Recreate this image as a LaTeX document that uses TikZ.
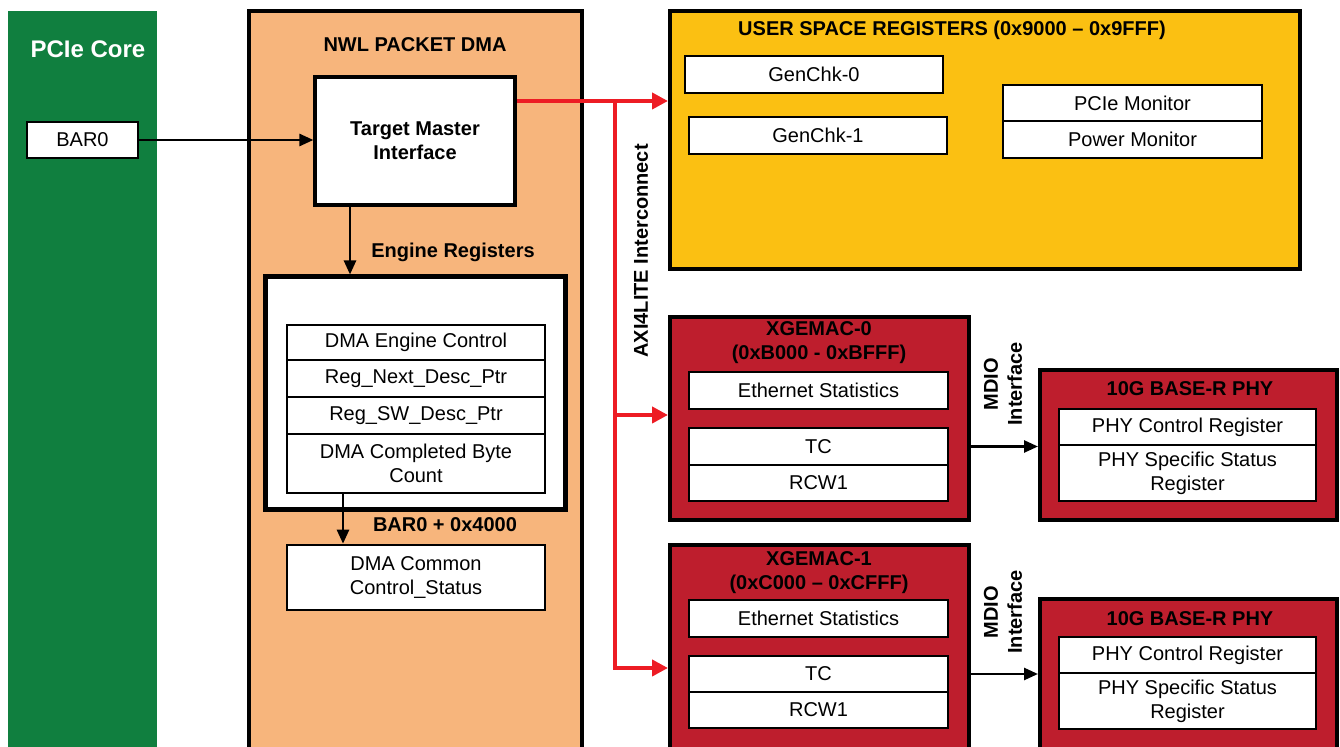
\documentclass[tikz,border=0pt]{standalone}
\usepackage{fontspec}
\setmainfont{Liberation Sans}
\usetikzlibrary{arrows.meta,fit}
\definecolor{coregreen}{RGB}{16,127,63}
\definecolor{dmaorange}{RGB}{247,181,124}
\definecolor{usryellow}{RGB}{251,192,18}
\definecolor{macred}{RGB}{190,30,45}
\definecolor{axired}{RGB}{237,28,36}
\tikzset{
  blk/.style={draw=black, line width=2pt, inner sep=0pt},
  cell/.style={draw=black, fill=white, line width=1.3pt, inner sep=0pt, align=center},
  sz/.style 2 args={minimum width=#1*0.5pt, minimum height=#2*0.5pt},
  hdr/.style={font=\bfseries, align=center},
  arr/.style={-{Triangle[length=7pt,width=6pt]}, line width=1.3pt},
  axi/.style={-{Triangle[length=8pt,width=8pt]}, line width=2pt, draw=axired},
}
\begin{document}
\begin{tikzpicture}[x=0.5pt,y=-0.5pt]
\useasboundingbox (0,0) rectangle (1340,747);
\clip (0,0) rectangle (1340,747);

% PCIe core
\node[fill=coregreen, inner sep=0pt, fit={(8,11) (157,760)}] (core) {};
\node[hdr, text=white, font=\bfseries\fontsize{12}{14}\selectfont] (coret) at (88,49) {PCIe Core};
\node[cell, sz={111}{36}] (bar) at (82.5,140) {BAR0};

% packet dma
\node[blk, fill=dmaorange, fit={(249,11) (582,760)}] (dma) {};
\node[hdr] (dmat) at (415,45) {NWL PACKET DMA};
\node[cell, sz={200}{128}, line width=1.6pt, font=\bfseries] (tmi) at (415,141) {Target Master\\Interface};
\node[hdr] (engt) at (453,252) {Engine Registers};
\node[blk, fill=white, line width=2.5pt, fit={(265,277) (565,510)}] (eng) {};
\node[cell, sz={258}{35}] (ctl) at (416,342.5) {DMA Engine Control};
\node[cell, sz={258}{37}] (nxt) at (416,378.5) {Reg\_Next\_Desc\_Ptr};
\node[cell, sz={258}{37}] (sw) at (416,415.5) {Reg\_SW\_Desc\_Ptr};
\node[cell, sz={258}{59}] (cnt) at (416,463.5) {DMA Completed Byte\\Count};
\node[hdr] (offt) at (445,525) {BAR0 + 0x4000};
\node[cell, sz={258}{65}] (cmn) at (416,577.5) {DMA Common\\Control\_Status};

\draw[arr] (bar.east) -- (bar.east -| tmi.west);
\draw[arr] ([xshift=-32.5pt]tmi.south) -- ([xshift=-32.5pt]eng.north);
\draw[arr] ([xshift=-36.5pt]cnt.south) -- ([xshift=-36.5pt]cmn.north);

% user space
\node[blk, fill=usryellow, fit={(670,11) (1300,269)}] (usr) {};
\node[hdr] (usrt) at (952,30) {USER SPACE REGISTERS (0x9000 -- 0x9FFF)};
\node[cell, sz={258}{37}] (gc0) at (814,74.5) {GenChk-0};
\node[cell, sz={258}{37}] (gc1) at (818,135.5) {GenChk-1};
\node[cell, sz={259}{36}] (pmon) at (1132.5,103) {PCIe Monitor};
\node[cell, sz={259}{37}] (wmon) at (1132.5,139.5) {Power Monitor};

% xgemac 0 and phy
\node[blk, fill=macred, fit={(670,317) (969,520)}] (mac0) {};
\node[hdr] (mac0t) at (819,343) {XGEMAC-0\\(0xB000 - 0xBFFF)};
\node[cell, sz={259}{37}] (eth0) at (818.5,390.5) {Ethernet Statistics};
\node[cell, sz={259}{37}] (tc0) at (818.5,446.5) {TC};
\node[cell, sz={259}{36}] (rcw0) at (818.5,483) {RCW1};
\node[blk, fill=macred, fit={(1040,370) (1337,520)}] (phy0) {};
\node[hdr] (phy0t) at (1190,389) {10G BASE-R PHY};
\node[cell, sz={257}{36}] (pctl0) at (1187.5,427) {PHY Control Register};
\node[cell, sz={257}{56}] (psts0) at (1187.5,473) {PHY Specific Status\\Register};
\node[hdr, rotate=90] (mdio0) at (1003,384) {MDIO\\Interface};
\draw[arr] (mac0.east |- tc0) -- (phy0.west |- tc0);

% xgemac 1 and phy
\node[blk, fill=macred, fit={(670,545) (969,760)}] (mac1) {};
\node[hdr] (mac1t) at (819,573) {XGEMAC-1\\(0xC000 -- 0xCFFF)};
\node[cell, sz={259}{37}] (eth1) at (818.5,618.5) {Ethernet Statistics};
\node[cell, sz={259}{36}] (tc1) at (818.5,674) {TC};
\node[cell, sz={259}{36}] (rcw1) at (818.5,710) {RCW1};
\node[blk, fill=macred, fit={(1040,599) (1337,760)}] (phy1) {};
\node[hdr] (phy1t) at (1190,619) {10G BASE-R PHY};
\node[cell, sz={257}{36}] (pctl1) at (1187.5,655) {PHY Control Register};
\node[cell, sz={257}{56}] (psts1) at (1187.5,701) {PHY Specific Status\\Register};
\node[hdr, rotate=90] (mdio1) at (1003,612) {MDIO\\Interface};
\draw[arr] (mac1.east |- tc1) -- (phy1.west |- tc1);

% axi4lite interconnect
\coordinate (bus0) at (615,101);
\coordinate (bus1) at (615,415);
\coordinate (bus2) at (615,668);
\node[hdr, rotate=90] (axit) at (641,251) {AXI4LITE Interconnect};
\draw[axi] (tmi.east |- bus0) -- (usr.west |- bus0);
\draw[axi] (bus1) -- (mac0.west |- bus1);
\draw[axi, line join=miter] (bus0) -- (bus2) -- (mac1.west |- bus2);
\end{tikzpicture}
\end{document}
